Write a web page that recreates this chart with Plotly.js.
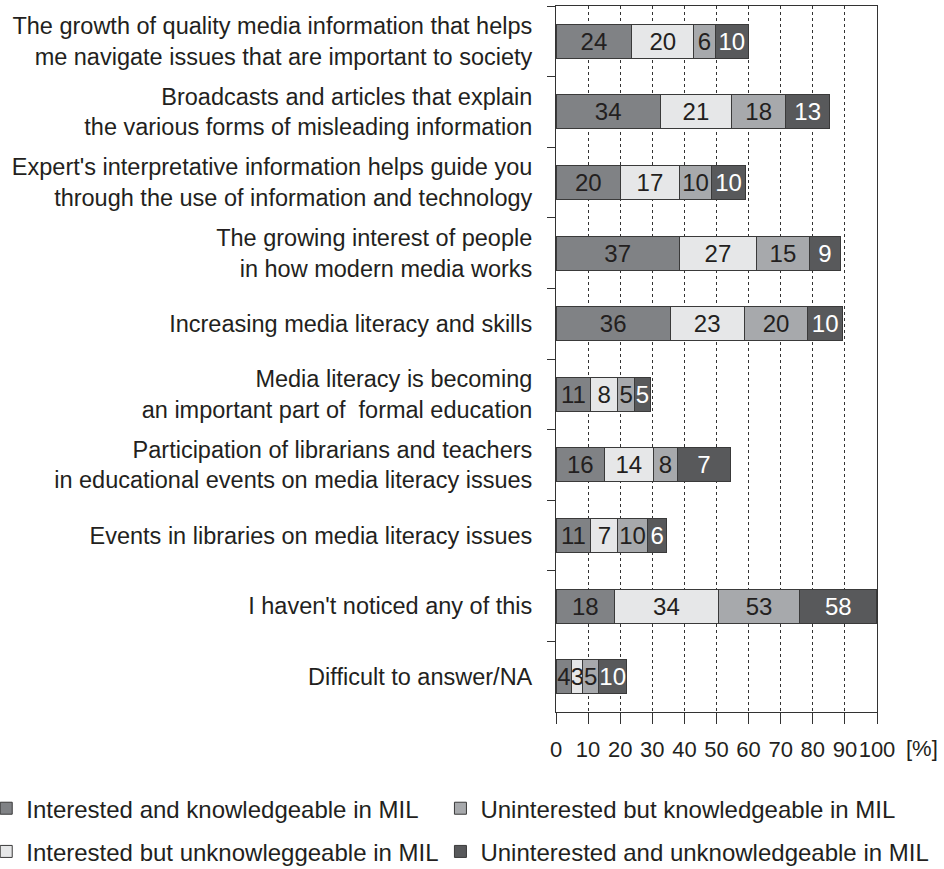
<!DOCTYPE html>
<html>
<head>
<meta charset="utf-8">
<script src="https://cdn.plot.ly/plotly-3.0.1.min.js"></script>
<style>
html,body{margin:0;padding:0;background:#ffffff;}
#chart{width:944px;height:869px;}
</style>
</head>
<body>
<div id="chart"></div>
<script>
// ---- Data ----
const categories = [
  "The growth of quality media information that helps<br>me navigate issues that are important to society",
  "Broadcasts and articles that explain<br>the various forms of misleading information",
  "Expert's interpretative information helps guide you<br>through the use of information and technology",
  "The growing interest of people<br>in how modern media works",
  "Increasing media literacy and skills",
  "Media literacy is becoming<br>an important part of  formal education",
  "Participation of librarians and teachers<br>in educational events on media literacy issues",
  "Events in libraries on media literacy issues",
  "I haven't noticed any of this",
  "Difficult to answer/NA"
];

const seriesNames = [
  "Interested and knowledgeable in MIL",
  "Interested but unknowleggeable in MIL",
  "Uninterested but knowledgeable in MIL",
  "Uninterested and unknowledgeable in MIL"
];

// segment lengths as drawn on the 0-100 % axis
const interestedKnowledgeable     = [23.6, 32.5, 20.1, 38.4, 35.6, 10.8, 15.1, 10.9, 18.3, 4.9];
const interestedUnknowledgeable   = [19.3, 22.2, 18.3, 24.1, 23.0,  8.4, 15.2,  8.3, 32.2, 3.5];
const uninterestedKnowledgeable   = [ 6.7, 16.9, 10.1, 16.4, 19.9,  5.3,  7.5,  9.3, 25.5, 4.8];
const uninterestedUnknowledgeable = [10.3, 13.6, 10.5,  9.7, 10.7,  4.9, 16.5,  6.0, 23.9, 8.9];

// numbers printed inside the segments
const labelsInterestedKnowledgeable     = [24, 34, 20, 37, 36, 11, 16, 11, 18,  4];
const labelsInterestedUnknowledgeable   = [20, 21, 17, 27, 23,  8, 14,  7, 34,  3];
const labelsUninterestedKnowledgeable   = [ 6, 18, 10, 15, 20,  5,  8, 10, 53,  5];
const labelsUninterestedUnknowledgeable = [10, 13, 10,  9, 10,  5,  7,  6, 58, 10];

const xTickValues = [0, 10, 20, 30, 40, 50, 60, 70, 80, 90, 100];
const xUnitLabel = "[%]";

// ---- Styles ----
const FONT = "Liberation Sans, Arial, Helvetica, sans-serif";
const TEXT_DARK = "#231f20";
const colors = ["#808285", "#e6e7e8", "#a7a9ac", "#58595b"];
const textColors = [TEXT_DARK, TEXT_DARK, TEXT_DARK, "#ffffff"];
const legendIds = ["legend", "legend", "legend2", "legend2"];

const seriesValues = [interestedKnowledgeable, interestedUnknowledgeable, uninterestedKnowledgeable, uninterestedUnknowledgeable];
const seriesLabels = [labelsInterestedKnowledgeable, labelsInterestedUnknowledgeable, labelsUninterestedKnowledgeable, labelsUninterestedUnknowledgeable];

const traces = seriesNames.map((name, i) => ({
  type: "bar",
  orientation: "h",
  name: name,
  y: categories,
  x: seriesValues[i],
  text: seriesLabels[i].map(String),
  textposition: "inside",
  insidetextanchor: "middle",
  constraintext: "none",
  textfont: {family: FONT, size: 24, color: textColors[i]},
  marker: {color: colors[i], line: {color: "#3a3a3a", width: 1}},
  legend: legendIds[i],
  legendgroup: "g" + i,
  hoverinfo: "skip"
}));

const legendCommon = {
  orientation: "v",
  xanchor: "left",
  yanchor: "top",
  y: -0.105,
  traceorder: "grouped",
  tracegroupgap: 9,
  font: {family: FONT, size: 24, color: TEXT_DARK},
  bgcolor: "rgba(0,0,0,0)",
  borderwidth: 0
};

const layout = {
  width: 944,
  height: 869,
  margin: {l: 556, r: 67, t: 6, b: 157, pad: 0, autoexpand: false},
  barmode: "stack",
  bargap: 0.52,
  paper_bgcolor: "#ffffff",
  plot_bgcolor: "#ffffff",
  font: {family: FONT, color: TEXT_DARK},
  showlegend: true,
  xaxis: {
    range: [0, 100],
    tickvals: xTickValues,
    ticktext: xTickValues.map(String),
    tickangle: 0,
    automargin: false,
    ticks: "outside",
    ticklen: 11,
    tickwidth: 1,
    tickcolor: "#333333",
    showline: true,
    linecolor: "#333333",
    linewidth: 1,
    mirror: true,
    showgrid: true,
    gridcolor: "#333333",
    gridwidth: 1,
    griddash: "3px,3px",
    zeroline: false,
    tickfont: {family: FONT, size: 22, color: TEXT_DARK},
    ticklabelstandoff: 7,
    fixedrange: true
  },
  yaxis: {
    type: "category",
    autorange: "reversed",
    automargin: false,
    tickson: "boundaries",
    ticks: "outside",
    ticklen: 8,
    tickwidth: 1,
    tickcolor: "#333333",
    showline: true,
    linecolor: "#333333",
    linewidth: 1,
    mirror: true,
    showgrid: false,
    zeroline: false,
    tickfont: {family: FONT, size: 23.5, color: TEXT_DARK},
    ticklabelstandoff: 18,
    fixedrange: true
  },
  legend: Object.assign({}, legendCommon, {x: -1.775}),
  legend2: Object.assign({}, legendCommon, {x: -0.36}),
  annotations: [{
    text: xUnitLabel,
    xref: "paper", yref: "paper",
    x: 1.139, y: -0.052,
    xanchor: "center", yanchor: "middle",
    showarrow: false,
    font: {family: FONT, size: 22, color: TEXT_DARK}
  }]
};

Plotly.newPlot("chart", traces, layout, {displayModeBar: false, staticPlot: true});
</script>
</body>
</html>
